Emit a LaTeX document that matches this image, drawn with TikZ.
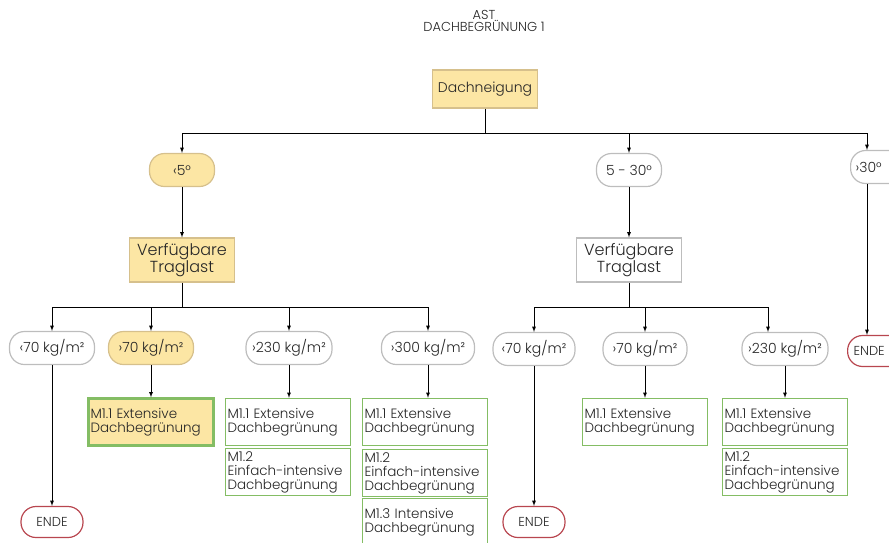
\documentclass[tikz,border=0pt]{standalone}
\usepackage{fontspec}
\setmainfont{Poppins}[UprightFont=* Light]
\usetikzlibrary{positioning}
\definecolor{gelb}{HTML}{FCE6A4}
\definecolor{gelbrand}{HTML}{D6C08C}
\definecolor{graurand}{HTML}{BDBDBD}
\definecolor{gruen}{HTML}{84BD64}
\definecolor{rot}{HTML}{B8464F}
\begin{document}
\begin{tikzpicture}[x=1pt,y=-1pt,
        every node/.style={font=\fontsize{13.5}{14}\selectfont,text=black!85},
        frage/.style={draw=graurand,line width=1.2pt,rounded corners=15pt,minimum height=33pt,inner xsep=4pt,font=\fontsize{14}{14}\selectfont},
        gfrage/.style={frage,draw=gelbrand,fill=gelb},
        kasten/.style={draw=graurand,line width=1.2pt,minimum width=105pt,minimum height=44pt,align=center,font=\fontsize{16}{15}\selectfont},
        gkasten/.style={kasten,draw=gelbrand,fill=gelb},
        mass/.style={draw=gruen,line width=1.4pt,text width=121pt,minimum height=47pt,align=left,inner xsep=2pt,inner ysep=2pt},
        ende/.style={draw=rot,line width=1.2pt,rounded corners=15pt,minimum height=31pt,minimum width=62pt,font=\fontsize{13}{13}\selectfont},
        pfeil/.style={-latex,line width=0.8pt},
        linie/.style={line width=0.8pt}]
        \useasboundingbox (0,0) rectangle (889,542);

        \node[align=center,font=\fontsize{13}{12}\selectfont] (titel) at (484,21) {AST\\DACHBEGRÜNUNG 1};
        \node[gkasten,minimum height=38pt,font=\fontsize{14}{14}\selectfont] (dach) at (485,89) {Dachneigung};

        \coordinate (j0) at (485,133);
        \node[gfrage,minimum width=65pt] (w5) at (182,170) {‹5°};
        \node[frage,minimum width=65pt] (w530) at (629,170) {5 - 30°};
        \node[frage,text width=52pt,inner xsep=5pt,align=left,anchor=west] (w30) at (850,167) {›30°};

        \node[gkasten] (trl) at (182,260) {Verfügbare\\Traglast};
        \node[kasten] (trr) at (629,260) {Verfügbare\\Traglast};
        \coordinate (jl) at (182,307);
        \coordinate (jr) at (629,307);

        \node[frage,minimum width=85pt] (l70a) at (52,348) {‹70 kg/m²};
        \node[gfrage,minimum width=85pt] (l70b) at (151,348) {›70 kg/m²};
        \node[frage,minimum width=86pt] (l230) at (289,348) {›230 kg/m²};
        \node[frage,minimum width=93pt] (l300) at (428,348) {›300 kg/m²};
        \node[frage,minimum width=82pt] (r70a) at (534,349) {‹70 kg/m²};
        \node[frage,minimum width=84pt] (r70b) at (645,349) {›70 kg/m²};
        \node[frage,minimum width=86pt] (r230) at (785,349) {›230 kg/m²};
        \node[ende,text width=50pt,inner xsep=4pt,align=left,anchor=west] (ende3) at (847,351) {ENDE};

        \node[ende] (ende1) at (52,522) {ENDE};
        \node[ende] (ende2) at (534,522) {ENDE};

        \node[mass,fill=gelb,line width=2.4pt] (ma) at (151,422) {M1.1 Extensive\\Dachbegrünung};
        \node[mass] (mb1) at (288,422) {M1.1 Extensive\\Dachbegrünung};
        \node[mass] (mb2) at (288,472) {M1.2\\Einfach-intensive\\Dachbegrünung};
        \node[mass] (mc1) at (425,422) {M1.1 Extensive\\Dachbegrünung};
        \node[mass] (mc2) at (425,473) {M1.2\\Einfach-intensive\\Dachbegrünung};
        \node[mass] (mc3) at (425,522) {M1.3 Intensive\\Dachbegrünung};
        \node[mass] (md) at (645,422) {M1.1 Extensive\\Dachbegrünung};
        \node[mass] (me1) at (785,422) {M1.1 Extensive\\Dachbegrünung};
        \node[mass] (me2) at (785,472) {M1.2\\Einfach-intensive\\Dachbegrünung};

        \draw[linie] (dach) -- (j0);
        \draw[pfeil] (j0) -| (w5);
        \draw[pfeil] (j0) -| (w530);
        \draw[pfeil] (j0) -| ([xshift=17pt]w30.north west);

        \draw[pfeil] (w5) -- (trl);
        \draw[pfeil] (w530) -- (trr);
        \draw[pfeil] ([xshift=17pt]w30.south west) -- ([xshift=20pt]ende3.north west);

        \draw[linie] (trl) -- (jl);
        \draw[pfeil] (jl) -| (l70a);
        \draw[pfeil] (jl) -| (l70b);
        \draw[pfeil] (jl) -| (l230);
        \draw[pfeil] (jl) -| (l300);

        \draw[linie] (trr) -- (jr);
        \draw[pfeil] (jr) -| (r70a);
        \draw[pfeil] (jr) -| (r70b);
        \draw[pfeil] (jr) -| ([xshift=-17pt]r230.north);

        \draw[pfeil] (l70a) -- (ende1);
        \draw[pfeil] (l70b.south) -- (l70b.south |- ma.north);
        \draw[pfeil] (l230.south) -- (l230.south |- mb1.north);
        \draw[pfeil] (l300.south) -- (l300.south |- mc1.north);
        \draw[pfeil] (r70a) -- (ende2);
        \draw[pfeil] (r70b) -- (md);
        \draw[pfeil] (r230) -- (me1);

    \end{tikzpicture}
\end{document}
